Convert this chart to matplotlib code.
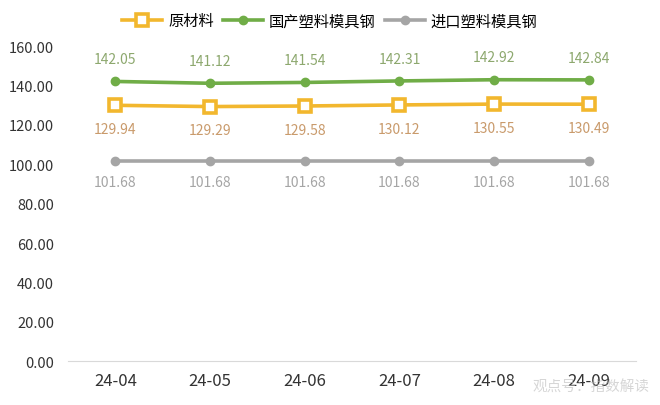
import matplotlib.pyplot as plt

plt.rcParams['font.family'] = ['Noto Sans CJK SC', 'DejaVu Sans']

months = ['24-04', '24-05', '24-06', '24-07', '24-08', '24-09']
raw_material = [129.94, 129.29, 129.58, 130.12, 130.55, 130.49]
domestic_steel = [142.05, 141.12, 141.54, 142.31, 142.92, 142.84]
imported_steel = [101.68, 101.68, 101.68, 101.68, 101.68, 101.68]
yticks = [0, 20, 40, 60, 80, 100, 120, 140, 160]

fig = plt.figure(figsize=(6.6, 4.06), dpi=100)
ax = fig.add_axes([0.103, 0.108, 0.861, 0.776])

x = list(range(len(months)))
ax.plot(x, raw_material, color='#F2B72E', lw=2.6, marker='s', ms=9,
        mfc='white', mec='#F2B72E', mew=2.6, label='原材料', zorder=3)
ax.plot(x, domestic_steel, color='#70AD47', lw=2.6, marker='o', ms=6,
        label='国产塑料模具钢', zorder=3)
ax.plot(x, imported_steel, color='#A5A5A5', lw=2.6, marker='o', ms=6,
        label='进口塑料模具钢', zorder=3)

for i in x:
    ax.annotate(f'{domestic_steel[i]:.2f}', (i, domestic_steel[i]), xytext=(0, 11),
                textcoords='offset points', ha='center', va='bottom',
                color='#8DA86E', fontsize=10)
    ax.annotate(f'{raw_material[i]:.2f}', (i, raw_material[i]), xytext=(0, -12),
                textcoords='offset points', ha='center', va='top',
                color='#C99A6B', fontsize=10)
    ax.annotate(f'{imported_steel[i]:.2f}', (i, imported_steel[i]), xytext=(0, -10),
                textcoords='offset points', ha='center', va='top',
                color='#A5A5A5', fontsize=10)

ax.set_xlim(-0.5, len(months) - 0.5)
ax.set_ylim(0, 160)
ax.set_yticks(yticks)
ax.set_yticklabels([f'{v:.2f}' for v in yticks], fontsize=10.5, color='#333333')
ax.set_xticks(x)
ax.set_xticklabels(months, fontsize=12, color='#333333')
ax.tick_params(length=0, pad=8)
ax.tick_params(axis='y', pad=10)
for side in ['top', 'right', 'left']:
    ax.spines[side].set_visible(False)
ax.spines['bottom'].set_color('#D9D9D9')

fig.legend(loc='upper center', bbox_to_anchor=(0.5, 0.99), ncol=3, frameon=False,
           fontsize=11, handlelength=2.6, columnspacing=0.6, handletextpad=0.4,
           borderaxespad=0.2)

# faint watermark, overlapping the last tick label as in the source image
fig.text(0.895, 0.045, '观点号：指数解读', fontsize=10.5, color='#BBBBBB', alpha=0.6,
         ha='center', va='center')

fig.savefig('out.png', dpi=100)
